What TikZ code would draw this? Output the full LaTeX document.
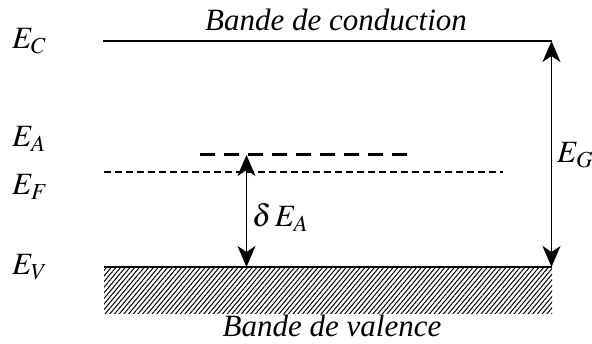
\documentclass[tikz,border=0pt]{standalone}
\usepackage{mathptmx}
\usepackage[no-math]{fontspec}
\setmainfont{Liberation Serif}
\usetikzlibrary{arrows.meta,patterns.meta}
\begin{document}
\begin{tikzpicture}[x=1pt,y=-1pt,
  lbl/.style={font=\fontsize{31}{33}\selectfont,inner sep=0pt,anchor=base west},
  band/.style={font=\fontsize{31}{33}\selectfont\itshape,inner sep=0pt,anchor=base},
  gap/.style={line width=1.3pt,
    {Stealth[length=21pt,width=18pt,inset=6pt]}-{Stealth[length=21pt,width=18pt,inset=6pt]}}]
  \useasboundingbox (0,0) rectangle (592,344);
  \coordinate (cl) at (103,41);  \coordinate (cr) at (551.5,41);
  \coordinate (al) at (200,155); \coordinate (ar) at (408,155);
  \coordinate (fl) at (104,172); \coordinate (fr) at (503,172);
  \coordinate (vl) at (104,267); \coordinate (vr) at (551.5,267);
  \coordinate (a0) at (246.5,155); \coordinate (v0) at (246.5,267);
  \fill[pattern={Lines[angle=50,distance=3.6pt,line width=1pt]}] (vl) rectangle (552,314);
  \draw[line width=1.4pt] (cl)--(cr);
  \draw[line width=1.6pt] (vl)--(vr);
  \draw[line width=3pt,dash pattern=on 15pt off 9pt] (al)--(ar);
  \draw[line width=1.1pt,dash pattern=on 7pt off 4pt] (fl)--(fr);
  \draw[gap] (a0)--(v0);
  \draw[gap] (cr)--(vr);
  \node[band] (cb) at (336,31) {Bande de conduction};
  \node[band] (vb) at (332,337) {Bande de valence};
  \node[lbl] (ec) at (12,49) {$E_C$};
  \node[lbl] (ea) at (12,147) {$E_A$};
  \node[lbl] (ef) at (12,195) {$E_F$};
  \node[lbl] (ev) at (12,275) {$E_V$};
  \node[lbl] (da) at (252,227) {$\delta\,E_A$};
  \node[lbl] (eg) at (557,163) {$E_G$};
\end{tikzpicture}
\end{document}
